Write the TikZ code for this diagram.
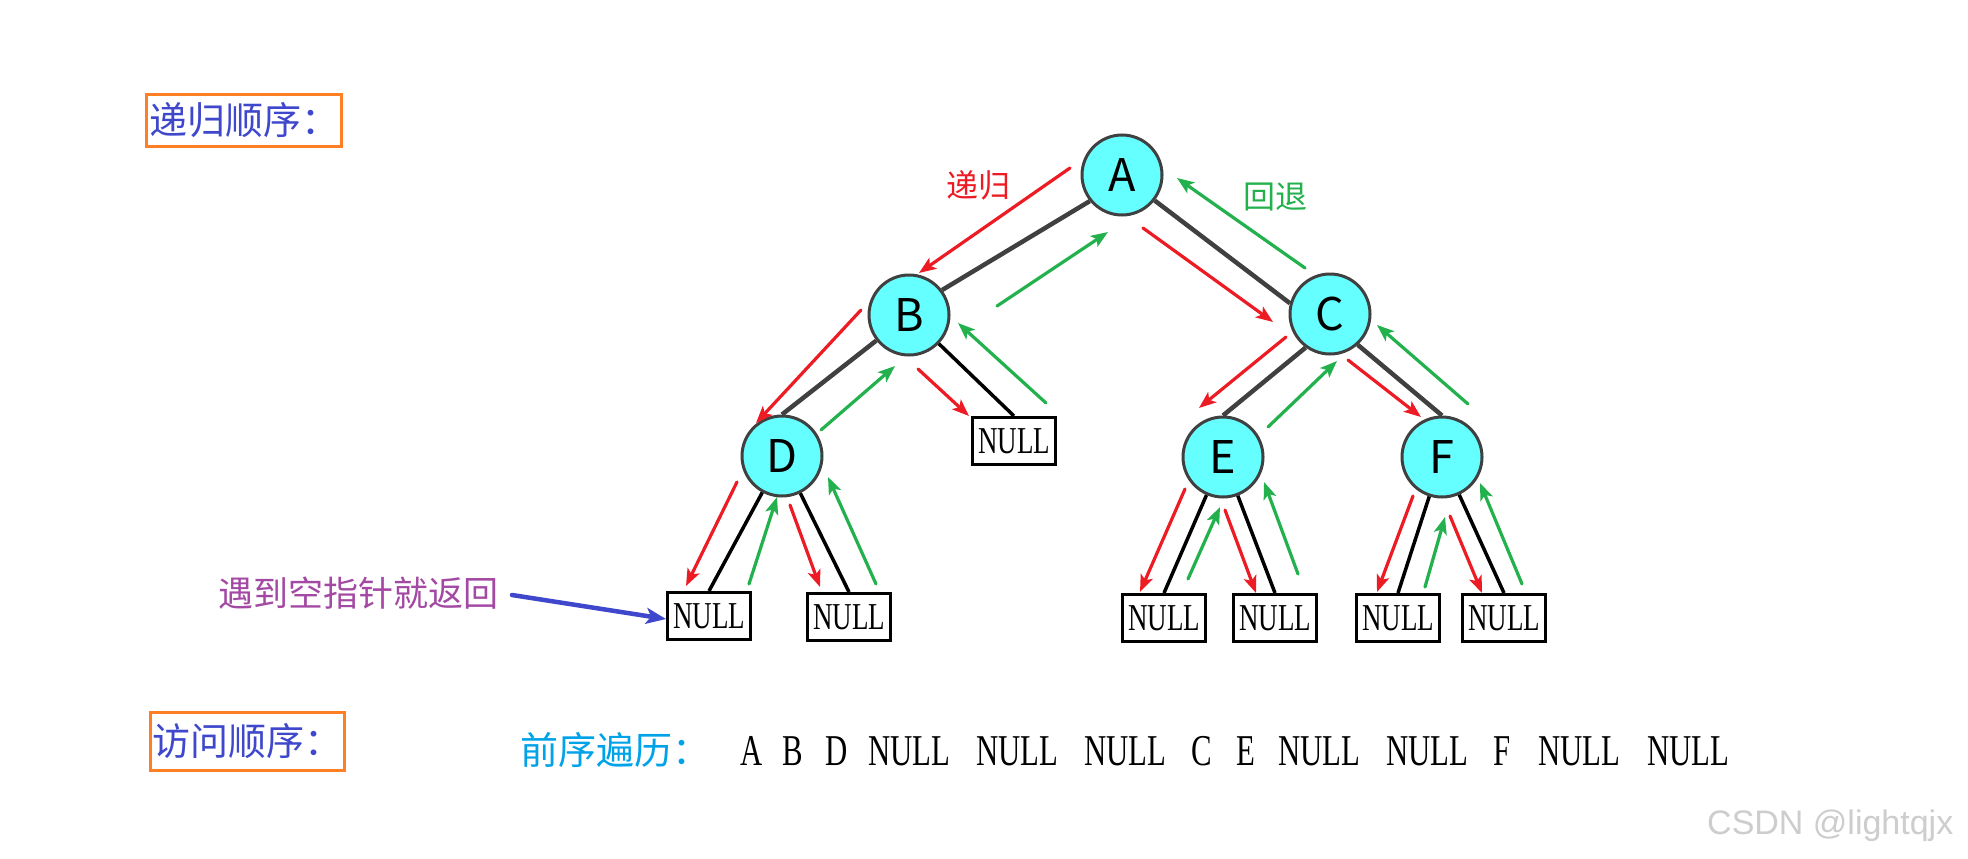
\documentclass[tikz,border=0pt]{standalone}
\usepackage{fontspec}
\setmainfont{Liberation Serif}
\newfontfamily\cjk{Noto Sans CJK SC}
\newfontfamily\condserif[FakeStretch=0.71]{Liberation Serif}
\newfontfamily\seqserif[FakeStretch=0.70]{Liberation Serif}
\newfontfamily\wmfont{Liberation Sans}
\usetikzlibrary{arrows.meta}
\definecolor{titleblue}{RGB}{63,72,204}
\definecolor{boxorange}{RGB}{255,127,39}
\definecolor{arrred}{RGB}{237,28,36}
\definecolor{arrgreen}{RGB}{34,177,76}
\definecolor{cfill}{RGB}{102,255,255}
\definecolor{cborder}{RGB}{64,64,64}
\definecolor{edgegray}{RGB}{64,64,64}
\definecolor{lblpurple}{RGB}{163,73,164}
\definecolor{seqcyan}{RGB}{0,162,232}
\definecolor{wmgray}{RGB}{205,205,205}
\tikzset{
  tnode/.style={circle, draw=cborder, fill=cfill, line width=3pt, minimum size=80pt, inner sep=0pt,
    font=\cjk\fontsize{45}{45}\selectfont},
  nullbox/.style={draw=black, fill=white, line width=3pt, minimum width=83pt, minimum height=47pt, inner sep=0pt,
    font=\condserif\fontsize{38}{38}\selectfont},
  grayedge/.style={draw=edgegray, line width=4.5pt},
  blackedge/.style={draw=black, line width=3.5pt},
  redarr/.style={draw=arrred, line width=3.2pt, line cap=round, -{Stealth[length=17pt,width=13pt,inset=4pt]}},
  greenarr/.style={draw=arrgreen, line width=3.2pt, line cap=round, -{Stealth[length=17pt,width=13pt,inset=4pt]}},
  bluearr/.style={draw=titleblue, line width=4.5pt, line cap=round, -{Stealth[length=20pt,width=16pt,inset=5pt]}},
  titlebox/.style={draw=boxorange, line width=3pt, text=titleblue, inner sep=0pt,
    font=\cjk\fontsize{38}{38}\selectfont},
  seqtok/.style={anchor=base west, inner sep=0pt, font=\seqserif\fontsize{44}{44}\selectfont}
}
\begin{document}
\begin{tikzpicture}[x=1pt,y=-1pt]
\useasboundingbox[fill=white] (0,0) rectangle (1968,859);

% titles
\node[titlebox, minimum width=195pt, minimum height=52pt] (t1) at (244,120.5) {递归顺序：};
\node[titlebox, minimum width=194pt, minimum height=58pt] (t2) at (247.5,741.5) {访问顺序：};

% tree nodes
\node[tnode] (A) at (1122,175) {A};
\node[tnode] (B) at (909,315) {B};
\node[tnode] (C) at (1330,314) {C};
\node[tnode] (D) at (782,456) {D};
\node[tnode] (E) at (1223,457) {E};
\node[tnode] (F) at (1442,457) {F};

\node[nullbox] (nb) at (1014,441) {NULL};
\node[nullbox] (n1) at (709,616) {NULL};
\node[nullbox] (n2) at (849,617) {NULL};
\node[nullbox] (n3) at (1164,618) {NULL};
\node[nullbox] (n4) at (1275,618) {NULL};
\node[nullbox] (n5) at (1398,618) {NULL};
\node[nullbox] (n6) at (1504,618) {NULL};

% tree edges
\draw[grayedge] (A.219) -- (B.37);
\draw[grayedge] (A.322) -- (C.165);
\draw[grayedge] (B.218) -- (D.north);
\draw[grayedge] (C.234) -- (E.north);
\draw[grayedge] (C.312) -- (F.north);
\draw[blackedge] (B) -- (nb.north);
\draw[blackedge] (D) -- (n1.north);
\draw[blackedge] (D) -- (n2.north);
\draw[blackedge] (E) -- (n3.north);
\draw[blackedge] (E) -- (n4.north);
\draw[blackedge] (F) -- (n5.north);
\draw[blackedge] (F) -- (n6.north);

% arrow end points
\coordinate (r1s) at (1070,168);  \coordinate (r1e) at (919,273);
\coordinate (r2s) at (1143,228);  \coordinate (r2e) at (1273,322);
\coordinate (r3s) at (861,310);   \coordinate (r3e) at (756,423);
\coordinate (r4s) at (918,369);   \coordinate (r4e) at (969,416);
\coordinate (r5s) at (737,482);   \coordinate (r5e) at (686,586);
\coordinate (r6s) at (790,505);   \coordinate (r6e) at (820,587);
\coordinate (r7s) at (1286,337);  \coordinate (r7e) at (1199,408);
\coordinate (r8s) at (1348,360);  \coordinate (r8e) at (1421,417);
\coordinate (r9s) at (1185,489);  \coordinate (r9e) at (1140,592);
\coordinate (r10s) at (1225,510); \coordinate (r10e) at (1256,593);
\coordinate (r11s) at (1413,496); \coordinate (r11e) at (1377,592);
\coordinate (r12s) at (1450,516); \coordinate (r12e) at (1482,593);

\coordinate (g1s) at (997,306);   \coordinate (g1e) at (1108,232);
\coordinate (g2s) at (1305,268);  \coordinate (g2e) at (1177,178);
\coordinate (g3s) at (821,430);   \coordinate (g3e) at (895,366);
\coordinate (g4s) at (1046,403);  \coordinate (g4e) at (958,323);
\coordinate (g5s) at (749,584);   \coordinate (g5e) at (777,497);
\coordinate (g6s) at (876,584);   \coordinate (g6e) at (828,477);
\coordinate (g7s) at (1268,427);  \coordinate (g7e) at (1337,361);
\coordinate (g8s) at (1468,404);  \coordinate (g8e) at (1377,325);
\coordinate (g9s) at (1188,579);  \coordinate (g9e) at (1220,507);
\coordinate (g10s) at (1298,574); \coordinate (g10e) at (1264,482);
\coordinate (g11s) at (1425,587); \coordinate (g11e) at (1445,517);
\coordinate (g12s) at (1522,584); \coordinate (g12e) at (1480,483);

\foreach \i in {1,...,12}{
  \draw[redarr] (r\i s) -- (r\i e);
  \draw[greenarr] (g\i s) -- (g\i e);
}

% labels
\node[text=arrred, font=\cjk\fontsize{32}{32}\selectfont, inner sep=0pt] (lrec) at (978,185) {递归};
\node[text=arrgreen, font=\cjk\fontsize{32}{32}\selectfont, inner sep=0pt] (lback) at (1275,197) {回退};
\node[text=lblpurple, font=\cjk\fontsize{35}{35}\selectfont, inner sep=0pt] (lnull) at (358,593) {遇到空指针就返回};
\coordinate (bs) at (512,595);
\draw[bluearr] (bs) -- ([yshift=-3pt]n1.west);

% traversal sequence
\node[text=seqcyan, font=\cjk\fontsize{38}{38}\selectfont, inner sep=0pt, anchor=west] (pre) at (520,750) {前序遍历：};
\node[seqtok] (s1) at (740,765) {A};
\node[seqtok] (s2) at (782,765) {B};
\node[seqtok] (s3) at (825,765) {D};
\node[seqtok] (s4) at (868,765) {NULL};
\node[seqtok] (s5) at (976,765) {NULL};
\node[seqtok] (s6) at (1084,765) {NULL};
\node[seqtok] (s7) at (1191,765) {C};
\node[seqtok] (s8) at (1236,765) {E};
\node[seqtok] (s9) at (1278,765) {NULL};
\node[seqtok] (s10) at (1386,765) {NULL};
\node[seqtok] (s11) at (1493,765) {F};
\node[seqtok] (s12) at (1538,765) {NULL};
\node[seqtok] (s13) at (1647,765) {NULL};

% watermark
\node[text=wmgray, font=\wmfont\fontsize{34}{34}\selectfont, inner sep=0pt, anchor=west] (wm) at (1707,826) {CSDN @lightqjx};
\end{tikzpicture}
\end{document}
